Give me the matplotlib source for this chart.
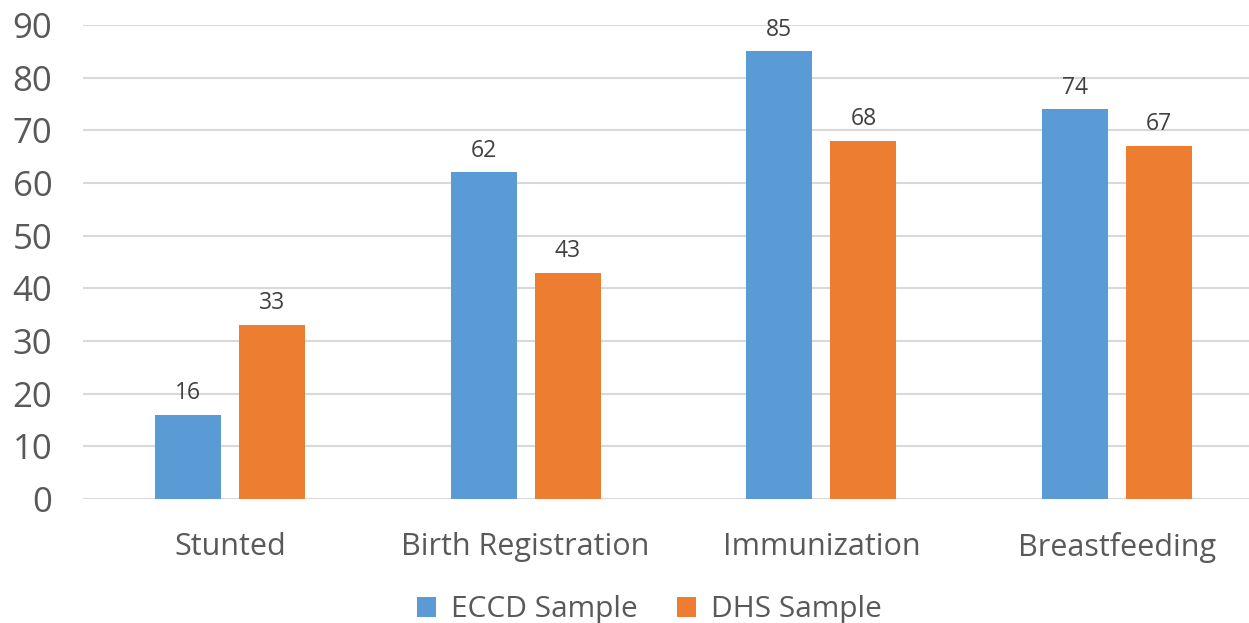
import matplotlib
matplotlib.use("Agg")
import matplotlib.pyplot as plt
import numpy as np

categories = ["Stunted", "Birth Registration", "Immunization", "Breastfeeding"]
eccd_values = [16, 62, 85, 74]
dhs_values = [33, 43, 68, 67]
series_names = ["ECCD Sample", "DHS Sample"]
y_ticks = [0, 10, 20, 30, 40, 50, 60, 70, 80, 90]

blue = "#5B9BD5"
orange = "#ED7D31"
text_gray = "#595959"
grid_gray = "#D9D9D9"

plt.rcParams["font.family"] = ["Open Sans", "DejaVu Sans"]

fig = plt.figure(figsize=(12.49, 6.23), dpi=100)
ax = fig.add_axes([83 / 1249, 124 / 623, (1249 - 83) / 1249, (499 - 25) / 623])

x = np.arange(len(categories))
width = 0.223
offset = 0.142
b1 = ax.bar(x - offset, eccd_values, width, color=blue, label=series_names[0], zorder=3)
b2 = ax.bar(x + offset, dhs_values, width, color=orange, label=series_names[1], zorder=3)

for bars, vals in ((b1, eccd_values), (b2, dhs_values)):
    for rect, v in zip(bars, vals):
        ax.annotate(str(v), (rect.get_x() + rect.get_width() / 2, v),
                    xytext=(0, 7), textcoords="offset points",
                    ha="center", va="bottom", fontsize=16.5, color="#404040")

ax.set_xlim(-0.497, 3.446)
ax.set_ylim(0, 90)
ax.set_yticks(y_ticks)
ax.set_xticks(x)
ax.set_xticklabels(categories)
ax.tick_params(axis="y", length=0, pad=22, labelsize=25, labelcolor=text_gray)
ax.tick_params(axis="x", length=0, pad=24, labelsize=22, labelcolor=text_gray)
ax.grid(axis="y", color=grid_gray, linewidth=1.5, zorder=0)
ax.set_axisbelow(True)
for s in ax.spines.values():
    s.set_visible(False)

fig.legend(loc="lower center", bbox_to_anchor=(0.52, -0.045), ncol=2, frameon=False,
           fontsize=21.5, labelcolor=text_gray, handlelength=0.65, handleheight=0.65,
           handletextpad=0.5, columnspacing=1.3)

fig.savefig("out.png", dpi=100)
